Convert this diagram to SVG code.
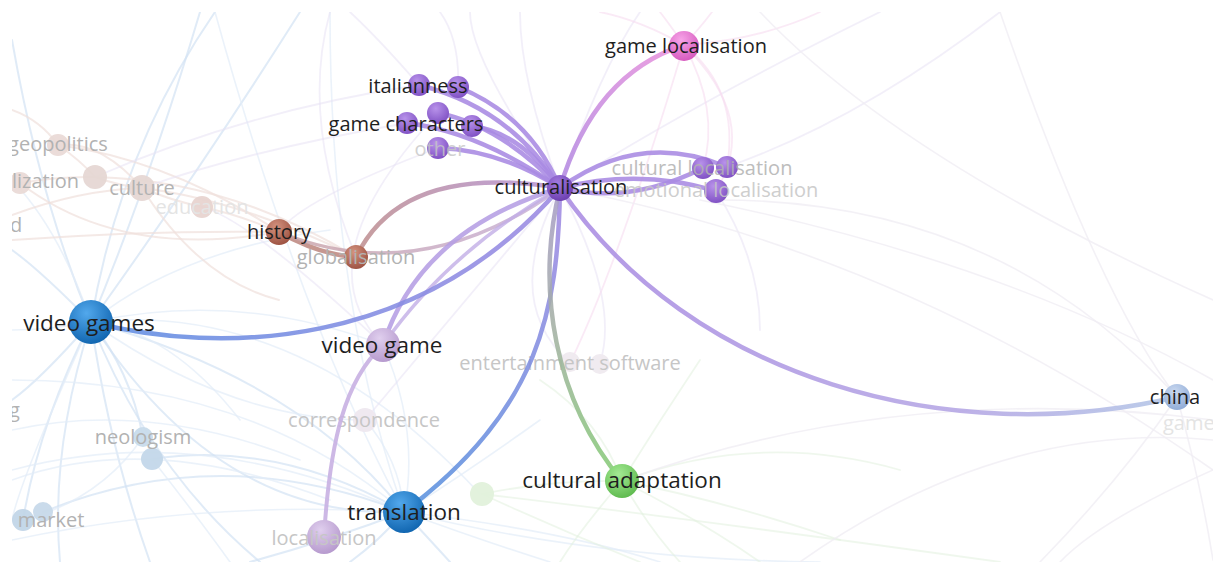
<svg xmlns="http://www.w3.org/2000/svg" width="1213" height="562" viewBox="0 0 1213 562">
  <defs>
    <style>
      .lbl{font-family:"Open Sans","Liberation Sans",sans-serif;font-size:20px;fill:#1e1e1e;text-anchor:middle}
      .lg{font-size:22.5px}
      .dim{fill:#b2b2b2}
      .dimmer{fill:#c6c6c6}
      .ghost{fill:#e4e4e4}
      .start{text-anchor:start}
      .e{fill:none;stroke-linecap:round}
      .fb{fill:none;stroke:#d3e3f4;stroke-width:2;stroke-linecap:round;opacity:.7}
      .fb2{fill:none;stroke:#e2ecf8;stroke-width:1.6;stroke-linecap:round;opacity:.7}
      .fp{fill:none;stroke:#efdfdc;stroke-width:2;stroke-linecap:round;opacity:.7}
      .fl{fill:none;stroke:#e8e2f4;stroke-width:1.8;stroke-linecap:round;opacity:.55}
      .fk{fill:none;stroke:#f6dcf0;stroke-width:1.8;stroke-linecap:round;opacity:.6}
      .fg{fill:none;stroke:#e2f1de;stroke-width:1.8;stroke-linecap:round;opacity:.55}
      .fr{fill:none;stroke:#f0eef4;stroke-width:1.6;stroke-linecap:round;opacity:.8}
      .main{stroke-width:4.5;stroke-opacity:.88}
      .pur{stroke:#a98ae2}
    </style>
    <clipPath id="view"><rect x="12" y="12" width="1201" height="550"/></clipPath>

    <!-- sphere shading for nodes -->
    <radialGradient id="nPurple" cx="0.4" cy="0.3" r="0.75">
      <stop offset="0" stop-color="#b892ea"/><stop offset="1" stop-color="#7d4ec2"/>
    </radialGradient>
    <radialGradient id="nPurpleDark" cx="0.4" cy="0.3" r="0.75">
      <stop offset="0" stop-color="#a27ade"/><stop offset="1" stop-color="#6a3cae"/>
    </radialGradient>
    <radialGradient id="nPink" cx="0.4" cy="0.3" r="0.75">
      <stop offset="0" stop-color="#f7a4e8"/><stop offset="1" stop-color="#d456bc"/>
    </radialGradient>
    <radialGradient id="nBrown" cx="0.4" cy="0.3" r="0.75">
      <stop offset="0" stop-color="#d4927f"/><stop offset="1" stop-color="#9a4f3f"/>
    </radialGradient>
    <radialGradient id="nBlue" cx="0.4" cy="0.3" r="0.75">
      <stop offset="0" stop-color="#52a8ec"/><stop offset="1" stop-color="#0d62ad"/>
    </radialGradient>
    <radialGradient id="nLilac" cx="0.4" cy="0.3" r="0.75">
      <stop offset="0" stop-color="#e0cfee"/><stop offset="1" stop-color="#b497cc"/>
    </radialGradient>
    <radialGradient id="nGreen" cx="0.4" cy="0.3" r="0.75">
      <stop offset="0" stop-color="#a4ea94"/><stop offset="1" stop-color="#5cb84c"/>
    </radialGradient>
    <radialGradient id="nSky" cx="0.4" cy="0.3" r="0.75">
      <stop offset="0" stop-color="#cad9f0"/><stop offset="1" stop-color="#8eaad6"/>
    </radialGradient>

    <!-- colour blends along the strong links -->
    <linearGradient id="gGameLoc" gradientUnits="userSpaceOnUse" x1="560" y1="188" x2="684" y2="45">
      <stop offset="0" stop-color="#b08ae2"/><stop offset="1" stop-color="#ea92dc"/>
    </linearGradient>
    <linearGradient id="gGlob" gradientUnits="userSpaceOnUse" x1="356" y1="257" x2="560" y2="188">
      <stop offset="0" stop-color="#c0908e"/><stop offset="1" stop-color="#b594d6"/>
    </linearGradient>
    <linearGradient id="gHist" gradientUnits="userSpaceOnUse" x1="279" y1="232" x2="560" y2="188">
      <stop offset="0" stop-color="#c8a0a4"/><stop offset="1" stop-color="#c4acd8"/>
    </linearGradient>
    <linearGradient id="gVG" gradientUnits="userSpaceOnUse" x1="91" y1="322" x2="560" y2="188">
      <stop offset="0" stop-color="#5f8ee2"/><stop offset="1" stop-color="#9e8ae2"/>
    </linearGradient>
    <linearGradient id="gTr" gradientUnits="userSpaceOnUse" x1="560" y1="188" x2="404" y2="512">
      <stop offset="0" stop-color="#a48ae2"/><stop offset="1" stop-color="#5792de"/>
    </linearGradient>
    <linearGradient id="gCA" gradientUnits="userSpaceOnUse" x1="560" y1="188" x2="622" y2="481">
      <stop offset="0" stop-color="#a89cc8"/><stop offset="0.45" stop-color="#a4b0a4"/><stop offset="1" stop-color="#84cc74"/>
    </linearGradient>
    <linearGradient id="gCh" gradientUnits="userSpaceOnUse" x1="560" y1="188" x2="1177" y2="397">
      <stop offset="0" stop-color="#a98ae2"/><stop offset="0.7" stop-color="#b4a6e4"/><stop offset="1" stop-color="#b2c6e6"/>
    </linearGradient>
  </defs>

  <rect x="0" y="0" width="1213" height="562" fill="#ffffff"/>

  <g clip-path="url(#view)">
    <!-- background links of the wider network -->
    <g id="links-faint">
      <!-- blue cluster around video games / translation -->
      <path class="fb" d="M91,322 Q120,150 215,12"/>
      <path class="fb" d="M91,322 Q150,180 200,12"/>
      <path class="fb" d="M91,322 Q40,200 12,40"/>
      <path class="fb" d="M91,322 Q220,520 404,512"/>
      <path class="fb" d="M91,322 Q300,380 404,512"/>
      <path class="fb" d="M91,322 Q40,380 12,400"/>
      <path class="fb" d="M91,322 Q50,450 60,562"/>
      <path class="fb" d="M91,322 Q110,450 150,562"/>
      <path class="fb" d="M91,322 Q150,470 260,562"/>
      <path class="fb" d="M91,322 Q130,370 143,437"/>
      <path class="fb" d="M91,322 Q40,420 23,520"/>
      <path class="fb" d="M91,322 Q40,270 12,250"/>
      <path class="fb" d="M91,322 Q200,170 300,12"/>
      <path class="fb2" d="M91,322 Q50,330 12,330"/>
      <path class="fb2" d="M91,322 Q230,420 365,420"/>
      <path class="fb2" d="M91,322 Q240,290 383,345"/>
      <path class="fb2" d="M91,322 Q60,230 12,180"/>
      <path class="fb2" d="M91,322 Q170,330 240,420"/>
      <path class="fb2" d="M91,322 Q180,250 330,230"/>
      <path class="fb2" d="M91,322 Q20,480 12,520"/>
      <path class="fb2" d="M91,322 Q300,300 480,494"/>
      <path class="fb" d="M404,512 Q330,540 250,562"/>
      <path class="fb" d="M404,512 Q380,540 350,562"/>
      <path class="fb" d="M404,512 Q430,540 450,562"/>
      <path class="fb2" d="M404,512 Q480,540 550,562"/>
      <path class="fb2" d="M404,512 Q560,530 660,562"/>
      <path class="fb" d="M404,512 Q280,440 152,459"/>
      <path class="fb" d="M404,512 Q220,440 43,512"/>
      <path class="fb2" d="M404,512 Q200,420 12,470"/>
      <path class="fb2" d="M404,512 Q200,500 12,540"/>
      <path class="fb2" d="M404,512 Q420,430 383,345"/>
      <path class="fb2" d="M404,512 Q400,460 365,420"/>
      <path class="fb2" d="M404,512 Q600,560 820,562"/>
      <path class="fb2" d="M404,512 Q300,320 215,12"/>
      <path class="fb2" d="M404,512 Q330,300 330,12"/>
      <path class="fb2" d="M404,512 Q250,380 12,380"/>
      <path class="fb2" d="M404,512 Q470,470 540,420"/>
      <path class="fb2" d="M143,437 Q100,500 23,520"/>
      <path class="fb2" d="M152,459 Q200,520 230,562"/>
      <path class="fb2" d="M12,430 Q150,400 300,460"/>
      <path class="fb2" d="M12,480 Q150,430 330,500"/>
      <!-- warm cluster on the upper left -->
      <path class="fp" d="M58,145 Q80,160 95,177"/>
      <path class="fp" d="M95,177 Q120,186 142,188"/>
      <path class="fp" d="M142,188 Q170,200 202,207"/>
      <path class="fp" d="M202,207 Q240,215 279,232"/>
      <path class="fp" d="M20,183 Q60,176 95,177"/>
      <path class="fp" d="M58,145 Q100,140 142,188"/>
      <path class="fp" d="M95,177 Q230,180 356,257"/>
      <path class="fp" d="M12,215 Q80,190 142,188"/>
      <path class="fp" d="M58,145 Q170,160 279,232"/>
      <path class="fp" d="M142,188 Q240,200 356,257"/>
      <path class="fp" d="M20,183 Q120,260 279,232"/>
      <path class="fp" d="M12,240 Q150,230 279,232"/>
      <path class="fp" d="M58,145 Q40,120 12,110"/>
      <path class="fp" d="M142,188 Q200,280 279,300"/>
      <!-- lilac links reaching the culturalisation cluster -->
      <path class="fl" d="M560,188 Q470,60 470,12"/>
      <path class="fl" d="M560,188 Q520,80 520,12"/>
      <path class="fl" d="M560,188 Q600,70 640,12"/>
      <path class="fl" d="M419,85 Q250,110 95,177"/>
      <path class="fl" d="M407,123 Q250,150 142,188"/>
      <path class="fl" d="M438,148 Q300,200 279,232"/>
      <path class="fl" d="M419,85 Q380,40 350,12"/>
      <path class="fl" d="M458,87 Q460,40 440,12"/>
      <path class="fl" d="M383,345 Q250,220 202,207"/>
      <path class="fl" d="M356,257 Q300,120 330,12"/>
      <path class="fl" d="M560,188 Q700,100 880,12"/>
      <path class="fl" d="M560,188 Q620,300 600,363"/>
      <path class="fl" d="M560,188 Q500,300 570,363"/>
      <path class="fl" d="M560,188 Q440,330 365,420"/>
      <path class="fl" d="M438,113 Q300,260 383,345"/>
      <path class="fl" d="M716,191 Q760,260 760,330"/>
      <path class="fl" d="M727,167 Q860,120 1000,12"/>
      <!-- pink links of game localisation -->
      <path class="fk" d="M684,45 Q670,25 660,12"/>
      <path class="fk" d="M684,45 Q700,28 712,12"/>
      <path class="fk" d="M684,45 Q640,20 600,12"/>
      <path class="fk" d="M684,45 Q740,90 727,167"/>
      <path class="fk" d="M684,45 Q760,120 716,191"/>
      <path class="fk" d="M684,45 Q720,110 703,168"/>
      <path class="fk" d="M684,45 Q760,40 820,12"/>
      <path class="fk" d="M684,45 Q620,260 570,363"/>
      <!-- green links of cultural adaptation -->
      <path class="fg" d="M622,481 Q550,480 482,494"/>
      <path class="fg" d="M622,481 Q580,530 560,562"/>
      <path class="fg" d="M622,481 Q650,530 680,562"/>
      <path class="fg" d="M622,481 Q700,520 760,562"/>
      <path class="fg" d="M622,481 Q720,500 840,540"/>
      <path class="fg" d="M622,481 Q760,430 900,470"/>
      <path class="fg" d="M622,481 Q600,420 540,380"/>
      <path class="fg" d="M622,481 Q660,420 700,360"/>
      <path class="fg" d="M482,494 Q560,530 640,562"/>
      <path class="fg" d="M482,494 Q700,520 1000,562"/>
      <!-- long pale links across the right half -->
      <path class="fr" d="M560,188 Q900,250 1213,470"/>
      <path class="fr" d="M700,200 Q1000,260 1213,380"/>
      <path class="fr" d="M622,481 Q900,380 1213,420"/>
      <path class="fr" d="M1177,397 Q1000,200 720,200"/>
      <path class="fr" d="M1177,397 Q1100,300 1000,12"/>
      <path class="fr" d="M1177,397 Q1200,480 1213,560"/>
      <path class="fr" d="M1177,397 Q1120,480 1040,562"/>
      <path class="fr" d="M800,562 Q1000,420 1213,440"/>
      <path class="fr" d="M1213,470 Q1100,520 1060,562"/>
      <path class="fr" d="M760,12 Q900,160 1213,300"/>
    </g>

    <!-- background nodes -->
    <g id="nodes-faint" opacity="0.95">
      <circle cx="58" cy="145" r="11" fill="#eadbd7"/>
      <circle cx="20" cy="183" r="11" fill="#eadbd7"/>
      <circle cx="95" cy="177" r="12" fill="#e6d8d4"/>
      <circle cx="142" cy="188" r="13" fill="#e6d8d4"/>
      <circle cx="202" cy="207" r="11" fill="#e8d4d0"/>
      <circle cx="143" cy="437" r="10" fill="#c9dcec"/>
      <circle cx="152" cy="459" r="11" fill="#c4d8ea"/>
      <circle cx="23" cy="520" r="11" fill="#c2d6e8"/>
      <circle cx="43" cy="512" r="10" fill="#c8daea"/>
      <circle cx="365" cy="420" r="12" fill="#efe8f0"/>
      <circle cx="570" cy="362" r="10" fill="#f0eaf0"/>
      <circle cx="600" cy="364" r="10" fill="#f0eaf0"/>
      <circle cx="482" cy="494" r="12" fill="#e2f2dc"/>
    </g>

    <!-- background labels -->
    <g id="labels-faint">
      <text class="lbl dim" x="58" y="151">geopolitics</text>
      <text class="lbl dim start" x="12" y="188">lization</text>
      <text class="lbl dim" x="142" y="195">culture</text>
      <text class="lbl ghost" x="202" y="214">education</text>
      <text class="lbl dim start" x="10" y="232">d</text>
      <text class="lbl dim start" x="9" y="417">g</text>
      <text class="lbl dim" x="143" y="444">neologism</text>
      <text class="lbl dim" x="51" y="527">market</text>
      <text class="lbl dimmer" x="364" y="427">correspondence</text>
      <text class="lbl dimmer" x="570" y="370">entertainment software</text>
      <text class="lbl ghost start" x="1163" y="430">game</text>
    </g>

    <!-- strong links -->
    <g id="connectors">
      <path class="e main" stroke="url(#gGameLoc)" d="M560,188 Q594,74 684,45"/>
      <path class="e main pur" d="M560,188 Q530,116 458,87"/>
      <path class="e main pur" d="M560,188 Q511,108 419,85"/>
      <path class="e main pur" d="M560,188 Q520,132 472,126"/>
      <path class="e main pur" d="M560,188 Q500,125 438,113"/>
      <path class="e main pur" d="M560,188 Q480,132 407,123"/>
      <path class="e main pur" d="M560,188 Q500,150 438,148"/>
      <path class="e main pur" d="M560,188 Q640,130 727,167"/>
      <path class="e main pur" d="M560,188 Q630,205 703,168"/>
      <path class="e main pur" d="M560,188 Q640,168 716,191"/>
      <path class="e" stroke="#c08c84" stroke-width="4.5" stroke-opacity=".9" d="M279,232 Q320,255 356,257"/>
      <path class="e main" stroke="url(#gGlob)" d="M356,257 Q402,162 560,188"/>
      <path class="e" stroke="url(#gHist)" stroke-width="3.5" stroke-opacity=".8" d="M279,232 Q420,290 560,188"/>
      <path class="e" stroke="#c8b0e2" stroke-width="4" stroke-opacity=".9" d="M324,537 C330,440 345,380 383,345"/>
      <path class="e main" stroke="#b59ee4" d="M383,345 Q420,230 560,188"/>
      <path class="e" stroke="#c2aee6" stroke-width="3.5" stroke-opacity=".8" d="M383,345 Q450,250 560,188"/>
      <path class="e main" stroke="url(#gVG)" stroke-width="5" d="M91,322 C220,355 420,350 560,188"/>
      <path class="e main" stroke="url(#gTr)" d="M560,188 C558,310 540,410 404,512"/>
      <path class="e main" stroke="url(#gCA)" d="M560,188 C535,290 555,400 622,481"/>
      <path class="e main" stroke="url(#gCh)" d="M560,188 C690,380 950,450 1177,397"/>
    </g>

    <!-- main nodes -->
    <g id="node-game-characters">
      <circle cx="407" cy="123" r="11" fill="url(#nPurple)"/>
      <circle cx="438" cy="113" r="11" fill="url(#nPurple)"/>
      <circle cx="472" cy="126" r="11" fill="url(#nPurple)"/>
      <text class="lbl" x="406" y="131">game characters</text>
    </g>
    <g id="node-italianness">
      <circle cx="419" cy="85" r="11" fill="url(#nPurple)"/>
      <circle cx="458" cy="87" r="11" fill="url(#nPurple)"/>
      <text class="lbl" x="418" y="93">italianness</text>
    </g>
    <g id="node-other">
      <circle cx="438" cy="148" r="11" fill="url(#nPurple)"/>
      <text class="lbl dimmer" x="440" y="156" opacity=".8">other</text>
    </g>
    <g id="node-cultural-localisation">
      <circle cx="703" cy="168" r="11" fill="url(#nPurple)"/>
      <circle cx="727" cy="167" r="11" fill="url(#nPurple)"/>
      <text class="lbl dim" x="702" y="175" opacity=".85">cultural localisation</text>
    </g>
    <g id="node-emotional-localisation">
      <circle cx="716" cy="191" r="12" fill="url(#nPurple)"/>
      <text class="lbl dimmer" x="716" y="197" opacity=".85">emotional localisation</text>
    </g>
    <g id="node-culturalisation">
      <circle cx="560" cy="188" r="13" fill="url(#nPurpleDark)"/>
      <text class="lbl" x="561" y="194">culturalisation</text>
    </g>
    <g id="node-game-localisation">
      <circle cx="684" cy="46" r="15" fill="url(#nPink)"/>
      <text class="lbl" x="686" y="53">game localisation</text>
    </g>
    <g id="node-history">
      <circle cx="279" cy="232" r="13" fill="url(#nBrown)"/>
      <text class="lbl" x="279" y="239">history</text>
    </g>
    <g id="node-globalisation">
      <circle cx="356" cy="257" r="12" fill="url(#nBrown)"/>
      <text class="lbl dim" x="356" y="264">globalisation</text>
    </g>
    <g id="node-video-games">
      <circle cx="91" cy="322" r="22" fill="url(#nBlue)"/>
      <text class="lbl lg" x="89" y="331">video games</text>
    </g>
    <g id="node-video-game">
      <circle cx="383" cy="345" r="17" fill="url(#nLilac)"/>
      <text class="lbl lg" x="382" y="353">video game</text>
    </g>
    <g id="node-localisation">
      <circle cx="324" cy="537" r="17" fill="url(#nLilac)"/>
      <text class="lbl dimmer" x="324" y="545">localisation</text>
    </g>
    <g id="node-translation">
      <circle cx="404" cy="512" r="21" fill="url(#nBlue)"/>
      <text class="lbl lg" x="404" y="520">translation</text>
    </g>
    <g id="node-cultural-adaptation">
      <circle cx="622" cy="481" r="17" fill="url(#nGreen)"/>
      <text class="lbl lg" x="622" y="488">cultural adaptation</text>
    </g>
    <g id="node-china">
      <circle cx="1177" cy="397" r="13" fill="url(#nSky)"/>
      <text class="lbl" x="1175" y="404">china</text>
    </g>
  </g>
</svg>
